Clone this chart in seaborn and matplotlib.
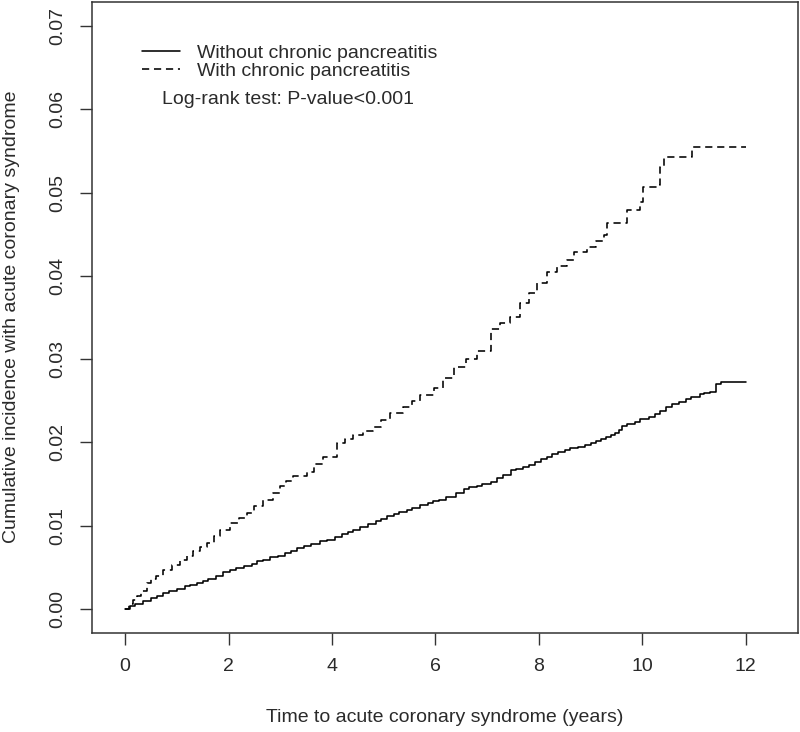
import numpy as np
import pandas as pd
import matplotlib
matplotlib.use("Agg")
import matplotlib.pyplot as plt
import seaborn as sns

# cumulative incidence
t_without = [0, 0.1, 0.2, 0.35, 0.5, 0.62, 0.74, 0.85, 1.0, 1.15, 1.25, 1.39, 1.5, 1.6, 1.75,
             1.9, 2.03, 2.15, 2.3, 2.45, 2.55, 2.67, 2.8, 2.95, 3.1, 3.2, 3.32, 3.45, 3.6,
             3.77, 3.9, 4.05, 4.2, 4.3, 4.41, 4.55, 4.7, 4.85, 4.95, 5.06, 5.2, 5.3, 5.45,
             5.55, 5.70, 5.85, 5.95, 6.06, 6.2, 6.4, 6.55, 6.65, 6.8, 6.9, 7.07, 7.2, 7.3,
             7.46, 7.55, 7.7, 7.8, 7.92, 8.05, 8.15, 8.25, 8.37, 8.5, 8.6, 8.75, 8.89, 9.0,
             9.1, 9.2, 9.3, 9.4, 9.47, 9.55, 9.61, 9.7, 9.85, 9.95, 10.13, 10.25, 10.35,
             10.45, 10.58, 10.7, 10.85, 10.95, 11.12, 11.2, 11.3, 11.43, 11.52, 12.0]
ci_without = [0, 0.0003, 0.0006, 0.0010, 0.0013, 0.0016, 0.0019, 0.0021, 0.0024, 0.0027,
              0.0029, 0.0031, 0.0034, 0.0036, 0.0040, 0.0044, 0.0047, 0.0049, 0.0051, 0.0054,
              0.0057, 0.0059, 0.0062, 0.0064, 0.0067, 0.0070, 0.0073, 0.0075, 0.0078, 0.0081,
              0.0083, 0.0086, 0.0090, 0.0092, 0.0095, 0.0098, 0.0102, 0.0106, 0.0108, 0.0111,
              0.0114, 0.0116, 0.0119, 0.0121, 0.0125, 0.0127, 0.0129, 0.0131, 0.0134, 0.0139,
              0.01435, 0.0146, 0.0148, 0.0150, 0.01525, 0.0157, 0.0161, 0.01665, 0.0168,
              0.0170, 0.0173, 0.0176, 0.0180, 0.0183, 0.0186, 0.0189, 0.0191, 0.0193, 0.0195,
              0.0197, 0.0199, 0.0202, 0.0204, 0.0206, 0.0209, 0.0211, 0.0215, 0.0220, 0.0222,
              0.0225, 0.0228, 0.0231, 0.0234, 0.0238, 0.0242, 0.0246, 0.0249, 0.0252, 0.0255,
              0.0258, 0.0259, 0.0260, 0.0270, 0.0273, 0.0273]

t_with = [0, 0.08, 0.16, 0.23, 0.3, 0.42, 0.5, 0.6, 0.74, 0.9, 1.06, 1.2, 1.32, 1.45, 1.58,
          1.72, 1.84, 2.03, 2.2, 2.35, 2.5, 2.67, 2.85, 3.0, 3.12, 3.25, 3.51, 3.65, 3.83,
          4.09, 4.25, 4.41, 4.6, 4.80, 4.95, 5.12, 5.38, 5.55, 5.70, 5.97, 6.15, 6.36, 6.6,
          6.81, 7.07, 7.25, 7.44, 7.64, 7.8, 7.96, 8.15, 8.35, 8.54, 8.67, 8.93, 9.1, 9.25,
          9.31, 9.64, 9.70, 9.96, 10.02, 10.28, 10.34, 10.41, 10.96, 12.0]
ci_with = [0, 0.0006, 0.0011, 0.0016, 0.0021, 0.0031, 0.0036, 0.0040, 0.0047, 0.0053, 0.0059,
           0.0064, 0.0069, 0.0074, 0.0079, 0.0087, 0.0095, 0.0103, 0.0109, 0.0115, 0.0123,
           0.0131, 0.0139, 0.0147, 0.0153, 0.0159, 0.0165, 0.0174, 0.0183, 0.0199, 0.0204,
           0.0209, 0.0214, 0.0219, 0.0227, 0.0235, 0.0243, 0.0250, 0.0257, 0.0265, 0.0277,
           0.0290, 0.0300, 0.0310, 0.0336, 0.0343, 0.0351, 0.0367, 0.0379, 0.0391, 0.0405,
           0.0412, 0.0419, 0.0429, 0.0435, 0.0442, 0.0449, 0.0463, 0.0464, 0.0479, 0.0489,
           0.0507, 0.0509, 0.0531, 0.0543, 0.0555, 0.0555]

group_labels = ["Without chronic pancreatitis", "With chronic pancreatitis"]
x_ticks = [0, 2, 4, 6, 8, 10, 12]
y_ticks = [0.00, 0.01, 0.02, 0.03, 0.04, 0.05, 0.06, 0.07]

sns.set_style("ticks")
plt.rcParams["font.family"] = ["Liberation Sans", "DejaVu Sans"]
txt = "#2a2a2a"

fig = plt.figure(figsize=(8, 7.32), dpi=100)
ax = fig.add_axes([92 / 800, 1 - 633 / 732, 706 / 800, 631 / 732])

df_wo = pd.DataFrame({"t": t_without, "ci": ci_without})
df_w = pd.DataFrame({"t": t_with, "ci": ci_with})

sns.lineplot(data=df_wo, x="t", y="ci", ax=ax, color="black", linewidth=1.15,
             drawstyle="steps-post", estimator=None, label=group_labels[0])
sns.lineplot(data=df_w, x="t", y="ci", ax=ax, color="black", linewidth=1.15,
             linestyle=(0, (4.5, 3)), drawstyle="steps-post", estimator=None,
             label=group_labels[1])

ax.set_xlim(-0.64, 13.01)
ax.set_ylim(-0.0029, 0.0729)
ax.set_xticks(x_ticks)
ax.set_xticklabels([str(v) for v in x_ticks])
ax.set_yticks(y_ticks)
ax.set_yticklabels([f"{v:.2f}" for v in y_ticks], rotation=90, va="center")
ax.tick_params(axis="both", length=8.3, width=1.0, color="#333333", labelsize=14,
               labelcolor=txt, pad=10, direction="out")
ax.set_xlabel("")
ax.set_ylabel("")
for s in ax.spines.values():
    s.set_visible(True)
    s.set_color("#333333")
    s.set_linewidth(1.1)

fig.text(445 / 800, 1 - 718 / 732, "Time to acute coronary syndrome (years)",
         ha="center", va="center", fontsize=14, color=txt)
fig.text(12 / 800, 1 - 317 / 732, "Cumulative incidence with acute coronary syndrome",
         ha="center", va="center", rotation=90, fontsize=14, color=txt)

leg = ax.legend(loc="center left", bbox_to_anchor=(142 / 800, 1 - 62 / 732),
                bbox_transform=fig.transFigure, frameon=False, fontsize=14,
                handlelength=1.96, handletextpad=0.88, labelspacing=0.0,
                borderpad=0, borderaxespad=0)
for t in leg.get_texts():
    t.set_color(txt)
fig.text(162 / 800, 1 - 99 / 732, "Log-rank test: P-value<0.001", ha="left",
         va="center", fontsize=14, color=txt)

fig.savefig("out.png", dpi=100)
